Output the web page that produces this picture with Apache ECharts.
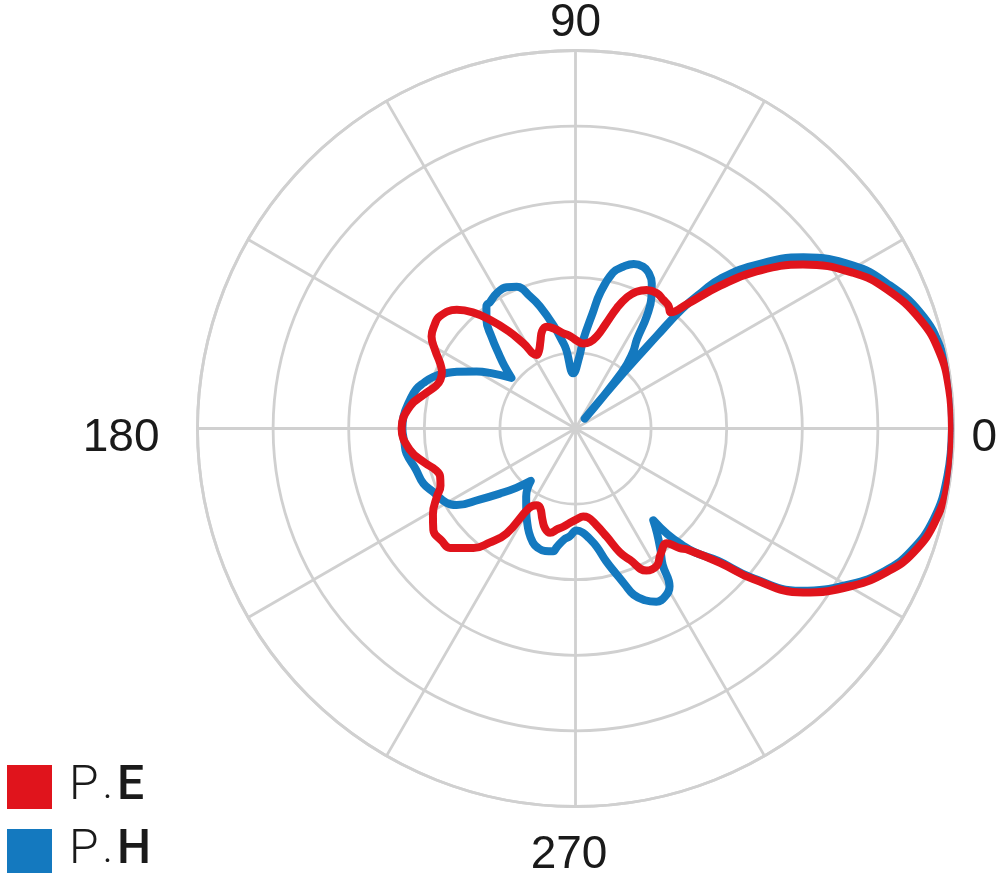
<!DOCTYPE html>
<html>
<head>
<meta charset="utf-8">
<script src="https://cdn.jsdelivr.net/npm/echarts@6/dist/echarts.min.js"></script>
<style>
html,body{margin:0;padding:0;background:#ffffff;}
#chart{width:1000px;height:876px;}
</style>
</head>
<body>
<div id="chart"></div>
<script>
// ---- Data (angle in degrees, radius on a 0..50 scale; rings every 10) ----
const seriesNames = ['P.E', 'P.H'];
const angleTickLabels = ['0', '90', '180', '270'];

const peAngles = [0, 6, 11.8, 17.6, 24.1, 29.3, 35.8, 41.3, 44.6, 48.2, 50.6, 53, 55.7, 59, 62.8, 66, 68.5, 71, 74, 77,
  80.5, 84.8, 89, 93, 97.3, 101.5, 105.8, 109, 112, 115, 117.8, 121.4, 124.5, 128.2, 131.5, 135, 140.4, 144, 147.4, 151,
  154.2, 157, 160.2, 163, 166.6, 172.4, 180, 187.3, 193, 196.5, 199.5, 203, 206.1, 211, 215.5, 220, 223.6, 229.5, 233, 236.7,
  239.7, 243, 246, 250, 253, 256.3, 260, 262.9, 266.7, 271, 275, 278, 282, 286.1, 289.7, 292.5, 296.5, 300.6, 304, 308.5,
  311.1, 312.6, 317.1, 319.7, 324.2, 330.5, 335.2, 339.8, 345.9, 352.8, 360];
const peRadii = [49.8, 49.7, 49.2, 47.8, 45.1, 42.1, 37.1, 31.3, 26.9, 22.0, 19.9, 20.4, 20.6, 20.9, 20.6, 19.8, 18.7, 16.9, 14.3, 12.5,
  11.6, 11.3, 11.6, 12.2, 12.7, 13.4, 14.0, 13.6, 12.4, 11.4, 11.0, 13.2, 15.6, 18.3, 20.5, 22.2, 23.3, 23.1, 22.6, 21.2,
  19.9, 19.2, 19.0, 19.3, 20.3, 22.1, 23.0, 22.1, 20.4, 19.3, 19.0, 19.4, 20.4, 22.0, 23.1, 23.1, 22.9, 20.8, 18.9, 16.6,
  12.2, 11.4, 11.5, 12.8, 13.8, 14.2, 13.5, 13.1, 12.5, 12.0, 11.7, 11.9, 13.0, 14.9, 17.4, 18.8, 21.0, 21.1, 20.1, 19.4,
  21.0, 21.7, 26.1, 30.8, 37.1, 42.2, 45.3, 47.6, 49.2, 49.8, 49.8];

const phAngles = [0, 6, 12.2, 18.6, 25.1, 30.4, 36.9, 42.5, 46.0, 47.1, 48.3, 48.7, 49.2, 47.0, 50.5, 53.0, 55.4, 57.6, 60.0, 62.3,
  65.0, 67.3, 70.5, 73.6, 76.5, 79.7, 81.5, 85.0, 87.0, 92.3, 96.7, 98.1, 102, 106.2, 109, 112.5, 116, 120.2, 124, 126.1,
  129.3, 132.4, 136.4, 138.5, 141.7, 147, 150, 154.4, 157, 160, 163.4, 166.2, 170, 176, 180, 184.8, 188.4, 194.4, 199.9, 204,
  209.9, 212.8, 216.5, 220.7, 225, 229.5, 234, 239.7, 242, 246, 249.5, 252, 256, 259.7, 261, 264, 266.8, 270.7, 274, 277,
  280.2, 283, 285.8, 287.5, 289.3, 292, 295, 298, 300.8, 302.6, 305, 308, 310.3, 311, 312.5, 314, 317.1, 319.7, 324.2, 330.5,
  335.2, 339.8, 345.9, 352.8, 360];
const phRadii = [49.8, 49.9, 49.5, 48.1, 45.4, 42.6, 37.7, 31.9, 27.5, 24.8, 21.2, 16.3, 9.7, 1.8, 9.7, 12.6, 14.3, 17.6, 20.1, 21.7,
  22.8, 23.2, 23.1, 22.3, 21.2, 18.2, 15.5, 11.8, 9.5, 7.3, 10.5, 11.4, 13.9, 16.8, 18.5, 20.3, 20.8, 20.7, 20.2, 20.0,
  18.6, 16.5, 13.8, 12.6, 10.8, 13.5, 15.1, 17.4, 18.7, 20.0, 21.0, 21.7, 22.2, 22.8, 22.9, 22.7, 22.6, 21.8, 21.4, 20.6,
  19.7, 18.7, 15.8, 13.2, 11.1, 9.1, 11.1, 12.9, 13.7, 15.1, 16.1, 16.5, 16.7, 16.5, 15.9, 14.8, 14.3, 13.5, 13.8, 14.6,
  15.9, 18.0, 20.1, 21.6, 23.3, 24.5, 25.3, 25.2, 24.3, 21.4, 19.6, 17.5, 15.9, 18.5, 20.9, 22.8, 25.7, 30.4, 36.7, 41.8,
  45.0, 47.2, 48.9, 49.6, 49.8];

// ---- Styles ----
const RED = '#e0141c';
const BLUE = '#1479bf';
const GRID = '#d0d0d0';
const TEXT = '#1a1a1a';
const LABEL_FONT = "'Liberation Sans', Arial, sans-serif";

function pairs(radii, angles) {
  return radii.map((r, i) => [r, angles[i]]);
}

const labelBase = { fontSize: 46, lineHeight: 46, fontFamily: LABEL_FONT, color: TEXT };
const richLabels = {
  a0: Object.assign({ padding: [19, 0, 0, 14] }, labelBase),
  a90: Object.assign({ padding: [0, 0, 0, 0] }, labelBase),
  a180: Object.assign({ padding: [19, 34, 0, 0] }, labelBase),
  a270: Object.assign({ padding: [44, 13, 0, 0] }, labelBase)
};

function legendFor(name, top) {
  return {
    orient: 'vertical',
    left: 7,
    top: top,
    padding: 0,
    itemWidth: 45,
    itemHeight: 44,
    icon: 'rect',
    data: [name],
    formatter: function (n) {
      const parts = n.split('.');
      return '{p|' + parts[0] + '}{d|.}{b|' + parts[1] + '}';
    },
    textStyle: {
      color: TEXT,
      fontSize: 40,
      rich: {
        p: { fontSize: 48, fontFamily: 'Roboto, sans-serif', fontWeight: 300, color: TEXT, padding: [0, 0, 0, 12] },
        d: { fontSize: 44, fontFamily: 'Roboto, sans-serif', fontWeight: 300, color: TEXT, padding: [0, 4, 0, 4] },
        b: { fontSize: 48, fontFamily: 'Roboto, sans-serif', fontWeight: 500, color: TEXT }
      }
    }
  };
}

const chart = echarts.init(document.getElementById('chart'), null, { renderer: 'canvas' });
chart.setOption({
  animation: false,
  backgroundColor: '#ffffff',
  polar: { center: [575.5, 428.5], radius: 378 },
  angleAxis: {
    type: 'value', min: 0, max: 360, interval: 30,
    startAngle: 0, clockwise: false,
    axisLine: { show: true, lineStyle: { color: GRID, width: 2.8 } },
    axisTick: { show: false },
    splitLine: { show: true, lineStyle: { color: GRID, width: 2.8 } },
    axisLabel: {
      margin: 4,
      fontSize: 46,
      fontFamily: LABEL_FONT,
      color: TEXT,
      formatter: function (v) {
        const s = String(v);
        if (v >= 360 || angleTickLabels.indexOf(s) < 0) return '';
        return '{a' + s + '|' + s + '}';
      },
      rich: richLabels
    }
  },
  radiusAxis: {
    type: 'value', min: 0, max: 50, interval: 10,
    axisLine: { show: false },
    axisTick: { show: false },
    axisLabel: { show: false },
    splitLine: { show: true, lineStyle: { color: GRID, width: 2.8 } }
  },
  legend: [legendFor(seriesNames[0], 763), legendFor(seriesNames[1], 827)],
  series: [
    {
      name: seriesNames[1],
      type: 'line',
      coordinateSystem: 'polar',
      data: pairs(phRadii, phAngles),
      showSymbol: false,
      smooth: 0.45,
      z: 2,
      itemStyle: { color: BLUE },
      lineStyle: { color: BLUE, width: 8, cap: 'round', join: 'round' }
    },
    {
      name: seriesNames[0],
      type: 'line',
      coordinateSystem: 'polar',
      data: pairs(peRadii, peAngles),
      showSymbol: false,
      smooth: 0.45,
      z: 3,
      itemStyle: { color: RED },
      lineStyle: { color: RED, width: 8, cap: 'round', join: 'round' }
    }
  ]
});
</script>
</body>
</html>
